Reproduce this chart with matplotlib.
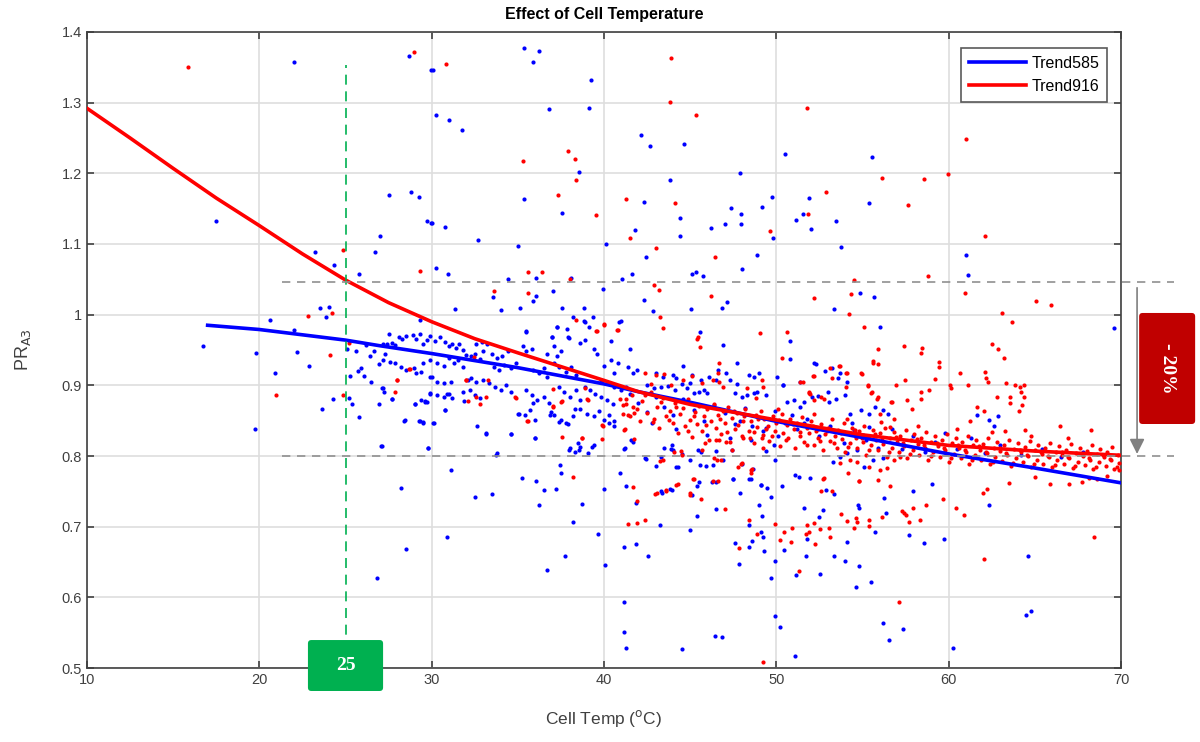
import matplotlib
matplotlib.use("Agg")
import matplotlib.pyplot as plt
from matplotlib.patches import FancyBboxPatch
from matplotlib.ticker import FuncFormatter
import numpy as np

# trend curves
trend_temp585 = [17, 20, 25, 27, 30, 35, 40, 42, 45, 50, 55, 60, 65, 70]
trend585 = [0.985, 0.979, 0.964, 0.956, 0.945, 0.925, 0.902, 0.891, 0.876, 0.849, 0.826, 0.803, 0.783, 0.762]
trend_temp916 = [10, 12.5, 15, 17.5, 20, 22.5, 25, 27.5, 30, 32.5, 35, 40, 42, 45, 50, 55, 60, 65, 70]
trend916 = [1.292, 1.250, 1.207, 1.165, 1.126, 1.086, 1.049, 1.017, 0.990, 0.966, 0.946, 0.907, 0.891,
            0.873, 0.851, 0.830, 0.815, 0.807, 0.801]

# blue (585) scatter, split by region
blue_upper = [
    (22.03, 1.358), (28.68, 1.366), (29.98, 1.346), (17.49, 1.133), (27.52, 1.169), (28.82, 1.174),
    (29.25, 1.167), (29.73, 1.133), (29.96, 1.130), (26.98, 1.112), (23.25, 1.088), (26.73, 1.089),
    (24.35, 1.070), (25.76, 1.058), (23.54, 1.009), (24.02, 1.011), (23.85, 0.997), (20.60, 0.992),
    (29.34, 0.993), (16.71, 0.955), (22.03, 0.978), (30.06, 1.346), (35.38, 1.377), (36.21, 1.373),
    (35.88, 1.358), (39.23, 1.332), (30.25, 1.283), (30.99, 1.275), (31.76, 1.262), (36.79, 1.291),
    (39.13, 1.292), (38.53, 1.202), (35.36, 1.163), (37.56, 1.144), (30.04, 1.130), (30.79, 1.124),
    (32.71, 1.105), (35.01, 1.097), (30.25, 1.066), (30.93, 1.058), (34.43, 1.051), (36.07, 1.052),
    (38.07, 1.052), (33.56, 1.025), (35.90, 1.020), (36.04, 1.026), (37.02, 1.034), (31.34, 1.008),
    (34.00, 1.007), (35.15, 1.010), (37.54, 1.009), (38.86, 1.009), (38.20, 0.997), (38.82, 0.991),
    (39.34, 0.996), (37.27, 0.983), (37.85, 0.980), (35.47, 0.977), (37.00, 0.968), (37.95, 0.967),
    (42.17, 1.254), (42.69, 1.238), (44.62, 1.241), (43.83, 1.190), (47.87, 1.200), (42.30, 1.159),
    (44.39, 1.137), (49.77, 1.167), (49.17, 1.152), (47.35, 1.151), (47.93, 1.142), (47.95, 1.128),
    (47.00, 1.128), (46.19, 1.123), (49.83, 1.108), (44.39, 1.112), (41.78, 1.120), (40.12, 1.100),
    (42.44, 1.082), (48.86, 1.084), (48.03, 1.064), (41.63, 1.057), (41.05, 1.050), (45.13, 1.057),
    (45.36, 1.060), (45.76, 1.055), (39.96, 1.036), (42.30, 1.021), (42.82, 1.005), (45.05, 1.008),
    (46.85, 1.009), (47.16, 1.018), (41.01, 0.991), (40.85, 0.989), (40.39, 0.963), (45.55, 0.976),
    (46.89, 0.957), (50.48, 1.228), (55.55, 1.223), (51.92, 1.165), (55.38, 1.158), (51.55, 1.143),
    (51.16, 1.134), (53.46, 1.132), (52.01, 1.121), (53.77, 1.096), (61.01, 1.084), (61.14, 1.056),
    (54.88, 1.030), (55.65, 1.025), (53.37, 1.008), (69.61, 0.981), (50.79, 0.963), (56.04, 0.983),
]

blue_core = [
    (19.79, 0.946), (22.19, 0.947), (22.86, 0.928), (20.91, 0.917), (23.64, 0.866), (24.26, 0.880),
    (25.20, 0.882), (25.36, 0.873), (25.76, 0.855), (19.75, 0.838), (27.08, 0.814), (29.77, 0.812),
    (28.41, 0.850), (29.27, 0.849), (29.48, 0.848), (29.01, 0.873), (26.96, 0.874), (27.72, 0.881),
    (29.63, 0.878), (27.12, 0.896), (27.23, 0.891), (26.48, 0.905), (26.05, 0.913), (25.70, 0.920),
    (25.28, 0.913), (26.44, 0.941), (26.96, 0.930), (26.63, 0.948), (27.31, 0.945), (29.92, 0.888),
    (29.92, 0.912), (25.90, 0.925), (25.1, 0.952), (25.6, 0.949), (26.2, 0.957),
    (27.54, 0.973), (28.1, 0.969), (28.3, 0.966), (28.5, 0.970), (27.2, 0.958), (27.4, 0.959),
    (27.7, 0.960), (27.9, 0.957), (28.9, 0.971), (29.1, 0.966), (29.3, 0.972), (29.5, 0.959),
    (29.7, 0.964), (29.9, 0.970), (30.2, 0.963), (30.5, 0.968), (30.8, 0.962), (31.0, 0.956),
    (31.2, 0.959), (31.4, 0.953), (31.6, 0.958), (31.8, 0.950), (27.2, 0.936), (27.6, 0.933),
    (27.9, 0.931), (28.2, 0.926), (28.5, 0.921), (29.0, 0.924), (29.1, 0.917), (29.4, 0.919),
    (27.2, 0.896), (27.7, 0.881), (29.03, 0.874), (29.4, 0.879), (29.7, 0.877), (29.9, 0.889),
    (30.3, 0.887), (30.7, 0.884), (31.0, 0.888), (31.2, 0.882), (30.0, 0.912), (30.3, 0.905),
    (30.7, 0.903), (31.1, 0.905), (29.5, 0.931), (29.9, 0.936), (30.3, 0.931), (30.7, 0.927),
    (31.0, 0.938), (31.3, 0.931), (31.5, 0.936), (31.8, 0.926), (32.0, 0.943), (32.3, 0.941),
    (32.5, 0.945), (32.8, 0.937), (33.0, 0.948), (32.6, 0.959), (32.9, 0.962), (33.2, 0.958),
    (32.1, 0.908), (32.3, 0.910), (32.6, 0.905), (33.0, 0.908), (33.3, 0.903), (31.8, 0.891),
    (32.2, 0.893), (32.5, 0.887), (32.8, 0.882), (30.77, 0.865), (29.6, 0.877), (28.45, 0.851),
    (29.3, 0.849), (29.5, 0.847), (30.06, 0.846), (32.61, 0.843), (33.15, 0.831), (29.80, 0.812),
    (33.77, 0.804), (27.10, 0.814), (33.5, 0.945), (33.8, 0.938), (34.1, 0.941), (34.4, 0.948),
    (33.6, 0.926), (33.9, 0.922), (34.2, 0.929), (34.6, 0.925), (34.9, 0.931), (33.7, 0.898),
    (34.0, 0.893), (34.3, 0.900), (34.6, 0.891), (35.0, 0.859), (34.6, 0.831), (35.3, 0.955),
    (35.5, 0.948), (35.8, 0.951), (35.47, 0.976), (35.9, 0.922), (36.2, 0.917), (36.5, 0.924),
    (36.7, 0.912), (35.5, 0.893), (35.8, 0.886), (36.1, 0.879), (36.5, 0.884), (36.8, 0.875),
    (35.4, 0.858), (35.7, 0.865), (36.0, 0.851), (35.99, 0.825), (36.7, 0.945), (37.1, 0.955),
    (37.3, 0.941), (37.5, 0.948), (37.0, 0.968), (37.3, 0.983), (37.9, 0.968), (37.1, 0.931),
    (37.4, 0.926), (37.8, 0.919), (38.1, 0.926), (38.4, 0.915), (37.4, 0.898), (37.7, 0.891),
    (38.0, 0.884), (38.4, 0.893), (38.6, 0.879), (37.1, 0.858), (37.5, 0.851), (37.8, 0.847),
    (38.2, 0.856), (38.3, 0.866), (38.6, 0.866), (38.0, 0.812), (38.3, 0.806), (38.6, 0.813),
    (38.6, 0.960), (38.9, 0.964), (39.4, 0.952), (39.6, 0.945), (38.9, 0.990), (39.1, 0.983),
    (40.0, 0.927), (40.4, 0.936), (40.6, 0.917), (40.8, 0.931), (39.8, 0.907), (40.2, 0.903),
    (40.6, 0.898), (41.0, 0.893), (41.3, 0.898), (38.9, 0.898), (39.2, 0.893), (39.5, 0.888),
    (39.8, 0.884), (40.2, 0.879), (40.5, 0.874), (39.0, 0.860), (39.4, 0.856), (39.7, 0.863),
    (40.0, 0.851), (40.3, 0.858), (40.3, 0.846), (40.6, 0.842), (39.28, 0.813), (41.22, 0.811),
    (41.70, 0.820), (41.4, 0.926), (41.7, 0.917), (41.9, 0.921), (41.51, 0.951),
    (30.75, 0.865), (30.12, 0.846), (33.17, 0.832), (34.62, 0.831), (35.98, 0.825), (37.95, 0.809),
    (38.55, 0.808), (39.09, 0.804), (39.40, 0.815), (38.47, 0.819), (35.09, 0.859), (37.39, 0.848),
    (37.91, 0.845), (36.87, 0.858), (36.95, 0.862), (35.9, 0.875), (31.88, 0.878), (30.9, 0.888),
    (40.6, 0.850), (41.16, 0.810), (41.55, 0.822), (43.46, 0.811), (44.53, 0.803), (43.9, 0.810),
    (43.95, 0.816), (45.45, 0.808), (49.42, 0.807), (49.88, 0.816),
    (44.57, 0.927), (43.0, 0.917), (43.4, 0.912), (44.0, 0.914), (44.2, 0.911), (42.5, 0.900),
    (42.9, 0.896), (43.3, 0.898), (43.7, 0.899), (44.1, 0.893), (44.5, 0.902), (44.8, 0.896),
    (45.0, 0.903), (45.1, 0.915), (45.6, 0.907), (46.1, 0.912), (46.5, 0.908), (45.2, 0.889),
    (45.5, 0.891), (45.8, 0.893), (46.0, 0.889), (46.6, 0.922), (47.7, 0.931), (47.1, 0.917),
    (47.3, 0.908), (47.7, 0.902), (47.6, 0.889), (48.0, 0.884), (48.3, 0.886), (48.7, 0.889),
    (48.9, 0.891), (49.4, 0.886), (48.4, 0.914), (48.7, 0.912), (49.0, 0.917), (50.4, 0.900),
    (50.6, 0.877), (51.0, 0.879), (51.4, 0.870), (51.6, 0.877), (52.2, 0.931), (52.8, 0.920),
    (53.2, 0.924), (53.7, 0.917), (54.1, 0.905), (54.0, 0.886), (54.3, 0.860), (54.9, 0.865),
    (55.4, 0.860), (54.5, 0.837), (55.0, 0.830), (55.4, 0.841), (55.7, 0.870), (56.2, 0.865),
    (56.5, 0.860), (53.56, 0.910), (52.3, 0.930), (51.39, 0.905), (50.39, 0.900), (50.81, 0.937),
    (50.04, 0.912), (52.07, 0.883), (52.44, 0.885), (52.98, 0.890), (53.08, 0.877), (53.46, 0.880),
    (61.66, 0.858), (62.35, 0.851), (62.63, 0.842), (62.84, 0.857),
    (42.0, 0.875), (42.5, 0.862), (43.0, 0.884), (43.5, 0.870), (44.0, 0.858), (44.6, 0.880),
    (45.2, 0.865), (45.8, 0.850), (46.4, 0.872), (47.0, 0.861), (47.6, 0.845), (48.2, 0.868),
    (48.8, 0.856), (49.4, 0.840), (49.9, 0.864), (41.5, 0.888), (42.8, 0.846), (44.2, 0.838),
    (46.0, 0.830), (47.3, 0.826), (48.5, 0.822), (47.9, 0.850), (48.6, 0.842), (49.2, 0.835),
    (50.1, 0.828), (50.9, 0.858), (51.6, 0.846), (52.4, 0.838), (50.5, 0.846), (51.2, 0.838),
    (51.8, 0.852), (52.5, 0.829), (53.1, 0.842), (53.9, 0.818), (54.4, 0.846), (55.2, 0.822),
    (55.9, 0.812), (56.7, 0.838), (57.3, 0.810), (57.9, 0.828), (58.6, 0.806), (59.2, 0.820),
    (59.8, 0.832), (60.5, 0.810), (61.3, 0.826), (62.1, 0.804), (63.0, 0.815), (64.2, 0.802),
    (65.4, 0.810), (66.5, 0.799), (67.8, 0.806),
]

blue_lower = [
    (28.22, 0.755), (28.53, 0.668), (26.83, 0.627), (31.12, 0.780), (32.50, 0.742), (33.50, 0.746),
    (30.87, 0.685), (33.75, 0.802), (35.22, 0.769), (36.04, 0.764), (36.21, 0.730), (36.54, 0.752),
    (37.23, 0.754), (37.45, 0.787), (37.50, 0.776), (38.70, 0.732), (38.22, 0.706), (37.76, 0.659),
    (36.69, 0.639), (39.65, 0.689), (40.06, 0.646), (40.00, 0.754), (40.93, 0.776), (41.28, 0.758),
    (41.88, 0.733), (41.18, 0.671), (41.88, 0.675), (42.53, 0.658), (43.25, 0.702), (41.14, 0.593),
    (41.16, 0.551), (41.30, 0.529), (44.51, 0.527), (46.42, 0.546), (46.83, 0.544), (43.37, 0.748),
    (43.93, 0.752), (45.49, 0.763), (45.13, 0.745), (46.27, 0.763), (46.52, 0.763), (46.52, 0.725),
    (45.38, 0.715), (45.01, 0.695), (47.51, 0.767), (47.91, 0.748), (48.43, 0.767), (48.63, 0.781),
    (48.98, 0.731), (49.13, 0.759), (49.44, 0.755), (49.67, 0.742), (48.41, 0.702), (49.17, 0.715),
    (49.10, 0.692), (49.23, 0.685), (48.59, 0.680), (47.58, 0.677), (48.41, 0.671), (49.26, 0.665),
    (47.83, 0.647), (49.92, 0.652), (49.67, 0.627), (49.94, 0.573), (48.00, 0.789), (46.90, 0.794),
    (44.27, 0.784), (43.04, 0.786), (42.42, 0.796), (45.55, 0.787), (45.90, 0.786),
    (42.4, 0.797), (43.3, 0.799), (44.2, 0.785), (45.0, 0.794), (46.3, 0.787), (44.0, 0.808),
    (45.6, 0.806), (46.5, 0.807), (47.4, 0.808), (48.5, 0.768), (49.1, 0.759), (45.4, 0.757),
    (47.5, 0.768), (43.3, 0.750), (43.8, 0.753), (49.9, 0.794), (53.3, 0.792), (53.7, 0.799),
    (54.1, 0.804), (54.7, 0.808), (55.1, 0.785), (55.6, 0.794), (56.2, 0.797), (52.9, 0.752),
    (50.33, 0.758), (51.06, 0.773), (51.3, 0.771), (51.94, 0.769), (53.37, 0.746), (51.63, 0.726),
    (52.73, 0.724), (52.46, 0.713), (54.74, 0.730), (54.82, 0.727), (56.35, 0.719), (56.23, 0.740),
    (57.93, 0.750), (59.05, 0.760), (55.75, 0.693), (51.78, 0.683), (54.12, 0.678), (50.43, 0.667),
    (51.72, 0.659), (53.33, 0.659), (54.0, 0.652), (54.82, 0.644), (52.55, 0.633), (51.16, 0.631),
    (54.62, 0.614), (55.51, 0.622), (57.68, 0.688), (58.55, 0.677), (59.75, 0.683), (56.19, 0.563),
    (57.35, 0.555), (56.56, 0.540), (51.07, 0.517), (60.23, 0.529), (50.2, 0.558), (64.5, 0.575),
    (64.78, 0.580), (64.59, 0.658), (62.32, 0.730),
]

# red (916) scatter, split by region
red_upper = [
    (15.86, 1.350), (28.99, 1.372), (24.86, 1.091), (29.30, 1.062), (24.22, 1.002), (22.80, 0.998),
    (30.85, 1.355), (35.30, 1.218), (37.91, 1.232), (38.30, 1.220), (38.36, 1.191), (37.33, 1.170),
    (39.54, 1.141), (35.61, 1.061), (36.42, 1.061), (38.01, 1.051), (33.62, 1.033), (35.59, 1.031),
    (38.38, 0.993), (39.52, 0.977), (40.00, 0.986), (43.87, 1.363), (43.85, 1.301), (45.34, 1.283),
    (41.30, 1.164), (44.10, 1.158), (49.61, 1.119), (41.51, 1.109), (43.00, 1.095), (46.44, 1.082),
    (42.92, 1.042), (43.21, 1.035), (46.23, 1.027), (43.27, 0.996), (43.40, 0.981), (40.79, 0.979),
    (45.44, 0.969), (45.42, 0.966), (49.05, 0.974), (45.55, 0.954), (51.78, 1.293), (61.03, 1.248),
    (56.13, 1.193), (58.55, 1.192), (59.94, 1.199), (52.88, 1.174), (57.66, 1.155), (51.82, 1.142),
    (62.11, 1.112), (58.82, 1.055), (54.53, 1.049), (52.19, 1.023), (54.33, 1.029), (60.93, 1.030),
    (65.07, 1.020), (65.92, 1.013), (54.22, 1.001), (63.08, 1.002), (63.68, 0.989), (50.60, 0.975),
    (55.11, 0.982), (62.54, 0.959), (55.90, 0.952), (57.40, 0.955), (58.45, 0.953), (62.85, 0.951),
]

red_core = [
    (24.12, 0.943), (20.95, 0.887), (24.86, 0.886), (27.85, 0.891), (28.70, 0.923), (28.01, 0.908),
    (25.20, 0.960), (28.74, 0.923), (27.97, 0.908), (31.99, 0.908), (33.29, 0.908), (32.1, 0.878),
    (32.6, 0.884), (32.8, 0.874), (33.15, 0.883), (34.89, 0.882), (35.51, 0.849), (37.04, 0.895),
    (37.06, 0.871), (37.54, 0.878), (37.54, 0.827), (38.70, 0.826), (39.57, 0.977), (40.02, 0.987),
    (40.77, 0.979), (38.9, 0.896), (39.09, 0.879), (39.86, 0.844), (40.9, 0.880), (41.3, 0.874),
    (41.7, 0.869), (41.1, 0.860), (41.5, 0.856), (41.2, 0.838), (32.0, 0.908), (32.44, 0.940),
    (34.86, 0.883), (37.02, 0.870), (37.52, 0.877), (35.59, 0.849), (38.74, 0.826), (39.87, 0.824),
    (39.01, 0.880), (39.94, 0.843), (41.18, 0.837), (41.72, 0.824),
    (42.4, 0.917), (43.0, 0.915), (43.5, 0.916), (42.7, 0.902), (43.9, 0.900), (44.6, 0.907),
    (45.1, 0.913), (45.7, 0.903), (46.3, 0.908), (46.7, 0.905), (46.9, 0.898), (46.7, 0.931),
    (46.6, 0.917), (48.3, 0.896), (48.8, 0.882), (49.2, 0.898), (49.15, 0.908), (51.4, 0.905),
    (52.1, 0.913), (51.9, 0.889), (52.2, 0.879), (52.6, 0.884), (53.1, 0.925), (53.7, 0.927),
    (54.1, 0.918), (54.9, 0.917), (55.6, 0.932), (55.9, 0.930), (55.3, 0.899), (55.5, 0.889),
    (55.9, 0.883), (56.7, 0.876), (56.0, 0.860), (56.8, 0.853), (56.6, 0.841),
    (68.26, 0.837), (66.44, 0.842), (64.45, 0.837), (63.27, 0.836), (61.26, 0.849), (62.03, 0.864),
    (61.66, 0.870), (64.06, 0.863), (64.26, 0.872), (63.54, 0.884), (63.54, 0.875), (62.81, 0.884),
    (64.35, 0.884), (64.2, 0.891), (63.85, 0.901), (64.12, 0.897), (64.39, 0.900), (63.31, 0.904),
    (62.11, 0.919), (62.19, 0.911), (62.28, 0.905), (63.23, 0.939), (61.12, 0.901), (60.64, 0.918),
    (60.1, 0.901), (60.14, 0.896), (59.44, 0.933), (59.46, 0.926), (59.23, 0.909), (58.4, 0.946),
    (58.84, 0.893), (58.4, 0.881), (58.4, 0.890), (57.87, 0.867), (57.45, 0.907), (56.95, 0.900),
    (56.65, 0.876), (57.58, 0.879), (55.84, 0.881), (55.55, 0.890), (55.30, 0.900), (55.63, 0.934),
    (54.95, 0.916), (54.06, 0.918), (54.02, 0.897), (53.66, 0.928), (53.25, 0.911), (52.17, 0.913),
    (51.53, 0.905), (50.33, 0.938), (51.88, 0.890), (51.94, 0.888), (52.75, 0.881),
    (44.06, 0.806), (44.47, 0.807), (45.70, 0.809), (45.88, 0.819), (46.50, 0.823), (46.70, 0.823),
    (47.43, 0.808), (47.10, 0.820), (48.09, 0.826), (49.17, 0.825), (49.23, 0.812), (48.70, 0.834),
]

# dense cloud along the red trend (x 41..70)
red_band = [
    (41.1, 0.872), (41.4, 0.858), (41.6, 0.887), (41.9, 0.866), (42.1, 0.849), (42.2, 0.878),
    (42.5, 0.861), (42.7, 0.891), (42.9, 0.853), (43.1, 0.870), (43.2, 0.839), (43.4, 0.882),
    (43.6, 0.857), (43.8, 0.864), (44.0, 0.846), (44.1, 0.875), (44.3, 0.832), (44.4, 0.859),
    (44.6, 0.868), (44.7, 0.842), (44.9, 0.881), (45.0, 0.851), (45.1, 0.827), (45.3, 0.862),
    (45.4, 0.845), (45.5, 0.871), (45.7, 0.836), (45.8, 0.856), (46.0, 0.866), (46.1, 0.823),
    (46.2, 0.849), (46.4, 0.874), (46.5, 0.840), (46.6, 0.858), (46.8, 0.831), (46.9, 0.863),
    (47.0, 0.847), (47.2, 0.869), (47.3, 0.820), (47.4, 0.854), (47.6, 0.838), (47.7, 0.861),
    (47.8, 0.844), (48.0, 0.828), (48.1, 0.857), (48.2, 0.867), (48.4, 0.835), (48.5, 0.849),
    (48.7, 0.818), (48.8, 0.858), (48.9, 0.841), (49.1, 0.864), (49.2, 0.830), (49.3, 0.852),
    (49.5, 0.843), (49.6, 0.821), (49.8, 0.856), (49.9, 0.836), (50.0, 0.847), (50.2, 0.814),
    (50.3, 0.860), (50.4, 0.833), (50.6, 0.844), (50.7, 0.825), (50.8, 0.852), (51.0, 0.838),
    (51.1, 0.811), (51.2, 0.846), (51.4, 0.829), (51.5, 0.855), (51.6, 0.820), (51.8, 0.840),
    (51.9, 0.833), (52.0, 0.849), (52.2, 0.815), (52.3, 0.836), (52.4, 0.826), (52.6, 0.845),
    (52.7, 0.808), (52.8, 0.831), (53.0, 0.840), (53.1, 0.821), (53.2, 0.852), (53.4, 0.829),
    (53.5, 0.812), (53.6, 0.837), (53.8, 0.824), (53.9, 0.846), (54.0, 0.805), (54.2, 0.833),
    (54.3, 0.818), (54.4, 0.840), (54.6, 0.826), (54.7, 0.811), (54.8, 0.835), (55.0, 0.820),
    (55.1, 0.843), (55.2, 0.802), (55.4, 0.829), (55.5, 0.815), (55.6, 0.837), (55.8, 0.823),
    (55.9, 0.808), (56.0, 0.832), (56.2, 0.817), (56.3, 0.840), (56.4, 0.799), (56.6, 0.826),
    (56.7, 0.812), (56.8, 0.834), (57.0, 0.820), (57.1, 0.805), (57.2, 0.829), (57.4, 0.814),
    (57.5, 0.837), (57.6, 0.797), (57.8, 0.823), (57.9, 0.809), (58.0, 0.831), (58.2, 0.817),
    (58.3, 0.802), (58.4, 0.826), (58.6, 0.812), (58.7, 0.834), (58.8, 0.794), (59.0, 0.820),
    (59.1, 0.806), (59.2, 0.828), (59.4, 0.814), (59.5, 0.799), (59.6, 0.823), (59.8, 0.809),
    (59.9, 0.831), (60.0, 0.791), (60.2, 0.818), (60.3, 0.803), (60.4, 0.825), (60.6, 0.811),
    (60.7, 0.797), (60.8, 0.820), (61.0, 0.806), (61.1, 0.829), (61.2, 0.789), (61.4, 0.815),
    (61.5, 0.801), (61.6, 0.822), (61.8, 0.809), (61.9, 0.795), (62.0, 0.817), (62.2, 0.804),
    (62.3, 0.826), (62.4, 0.788), (62.6, 0.812), (62.7, 0.799), (62.8, 0.820), (63.0, 0.807),
    (63.1, 0.793), (63.2, 0.815), (63.4, 0.802), (63.5, 0.823), (63.6, 0.786), (63.8, 0.810),
    (63.9, 0.797), (64.0, 0.818), (64.2, 0.805), (64.3, 0.791), (64.4, 0.813), (64.6, 0.800),
    (64.7, 0.821), (64.8, 0.785), (65.0, 0.808), (65.1, 0.795), (65.2, 0.816), (65.4, 0.803),
    (65.5, 0.789), (65.6, 0.811), (65.8, 0.798), (65.9, 0.819), (66.0, 0.784), (66.2, 0.806),
    (66.3, 0.794), (66.4, 0.814), (66.6, 0.801), (66.7, 0.788), (66.8, 0.809), (67.0, 0.797),
    (67.1, 0.817), (67.2, 0.783), (67.4, 0.804), (67.5, 0.792), (67.6, 0.812), (67.8, 0.800),
    (67.9, 0.787), (68.0, 0.807), (68.2, 0.795), (68.3, 0.815), (68.4, 0.782), (68.6, 0.803),
    (68.7, 0.791), (68.8, 0.810), (69.0, 0.798), (69.1, 0.786), (69.2, 0.806), (69.4, 0.794),
    (69.5, 0.813), (69.6, 0.781), (69.8, 0.801), (69.9, 0.790),
    (41.25, 0.880), (41.75, 0.861), (42.35, 0.886), (42.85, 0.848), (43.3, 0.876), (43.75, 0.851),
    (44.2, 0.870), (44.85, 0.835), (45.25, 0.857), (45.9, 0.844), (46.3, 0.869), (46.75, 0.852),
    (47.15, 0.834), (47.55, 0.864), (48.05, 0.849), (48.45, 0.826), (48.95, 0.853), (49.4, 0.838),
    (49.75, 0.829), (50.15, 0.851), (50.55, 0.822), (50.95, 0.845), (51.35, 0.834), (51.75, 0.816),
    (52.15, 0.842), (52.55, 0.821), (52.95, 0.836), (53.35, 0.818), (53.75, 0.832), (54.15, 0.813),
    (54.55, 0.837), (54.95, 0.826), (55.35, 0.809), (55.75, 0.831), (56.15, 0.822), (56.55, 0.806),
    (56.95, 0.827), (57.35, 0.818), (57.75, 0.803), (58.15, 0.824), (58.55, 0.816), (58.95, 0.800),
    (59.35, 0.819), (59.75, 0.812), (60.15, 0.797), (60.55, 0.816), (60.95, 0.809), (61.35, 0.795),
    (61.75, 0.814), (62.15, 0.806), (62.55, 0.792), (62.95, 0.811), (63.35, 0.804), (63.75, 0.790),
    (64.15, 0.809), (64.55, 0.802), (64.95, 0.788), (65.35, 0.806), (65.75, 0.800), (66.15, 0.787),
    (66.55, 0.805), (66.95, 0.799), (67.35, 0.786), (67.75, 0.803), (68.15, 0.797), (68.55, 0.785),
    (68.95, 0.802), (69.35, 0.796), (69.75, 0.784), (60.5, 0.838), (62.5, 0.834), (64.8, 0.829),
    (66.9, 0.826), (58.2, 0.842), (56.1, 0.848), (54.1, 0.853), (52.2, 0.860), (50.1, 0.867),
]

red_lower = [
    (38.20, 0.771), (41.68, 0.756), (41.90, 0.736), (41.40, 0.704), (41.90, 0.705), (42.40, 0.709),
    (42.96, 0.746), (43.60, 0.751), (44.30, 0.760), (45.16, 0.767), (45.00, 0.745), (45.61, 0.739),
    (47.04, 0.725), (48.53, 0.776), (48.40, 0.710), (49.90, 0.704), (48.88, 0.689), (47.82, 0.670),
    (49.23, 0.509), (47.95, 0.788), (46.53, 0.794), (43.27, 0.793),
    (43.4, 0.794), (44.5, 0.801), (46.4, 0.797), (46.8, 0.794), (47.8, 0.785), (48.6, 0.781),
    (48.0, 0.790), (48.5, 0.780), (45.2, 0.768), (46.3, 0.764), (46.6, 0.764), (44.2, 0.759),
    (43.6, 0.752), (43.1, 0.747), (45.0, 0.747), (52.7, 0.768), (53.7, 0.790), (54.3, 0.794),
    (54.7, 0.792), (55.4, 0.785), (56.0, 0.780), (56.4, 0.783), (56.8, 0.794), (57.2, 0.799),
    (55.9, 0.766), (56.6, 0.757), (52.6, 0.750), (54.8, 0.764),
    (52.75, 0.769), (54.16, 0.776), (54.78, 0.765), (53.21, 0.751), (53.75, 0.718), (54.12, 0.708),
    (54.60, 0.712), (54.70, 0.707), (55.36, 0.710), (55.36, 0.701), (56.12, 0.714), (57.95, 0.727),
    (57.27, 0.722), (57.39, 0.719), (57.53, 0.717), (57.72, 0.706), (58.32, 0.710), (58.69, 0.731),
    (59.69, 0.739), (52.55, 0.697), (53.04, 0.698), (52.17, 0.705), (51.78, 0.702), (51.88, 0.693),
    (51.74, 0.689), (50.91, 0.698), (50.43, 0.693), (52.26, 0.676), (53.13, 0.685), (54.49, 0.698),
    (50.87, 0.679), (50.23, 0.681), (51.32, 0.637), (57.10, 0.594), (62.07, 0.654), (68.42, 0.685),
    (60.43, 0.726), (60.87, 0.717), (62.00, 0.747), (62.20, 0.753), (63.50, 0.762), (65.03, 0.771),
    (65.90, 0.760), (66.98, 0.760), (67.72, 0.763), (68.15, 0.769), (68.63, 0.768), (69.20, 0.772),
    (69.90, 0.780),
]

x_ticks = [10, 20, 30, 40, 50, 60, 70]
y_ticks = [0.5, 0.6, 0.7, 0.8, 0.9, 1.0, 1.1, 1.2, 1.3, 1.4]

BLUE = '#0000ff'
RED = '#ff0000'
GREEN = '#00b050'
DARK_RED = '#c00000'

plt.rcParams['font.family'] = ['Liberation Sans', 'DejaVu Sans']

fig = plt.figure(figsize=(12, 7.42), dpi=100)
ax = fig.add_axes([0.0725, 0.0997, 0.8617, 0.8572])

for pts, col in [(blue_upper, BLUE), (blue_core, BLUE), (blue_lower, BLUE),
                 (red_upper, RED), (red_core, RED), (red_band, RED), (red_lower, RED)]:
    arr = np.array(pts)
    ax.scatter(arr[:, 0], arr[:, 1], s=9, color=col, linewidths=0, zorder=3)

ax.plot(trend_temp585, trend585, color=BLUE, lw=2.6, label='Trend585', zorder=4)
ax.plot(trend_temp916, trend916, color=RED, lw=2.6, label='Trend916', zorder=4)

ax.set_xlim(10, 70)
ax.set_ylim(0.5, 1.4)
ax.set_xticks(x_ticks)
ax.set_yticks(y_ticks)
ax.yaxis.set_major_formatter(FuncFormatter(lambda v, p: '%g' % v))
ax.grid(True, color='#dedede', lw=1.2, zorder=0)
ax.set_axisbelow(True)
ax.tick_params(direction='in', top=True, right=True, length=5, width=1.2,
               labelsize=10.5, colors='#404040')
for sp in ax.spines.values():
    sp.set_color('#404040')
    sp.set_linewidth(1.2)

ax.set_title('Effect of Cell Temperature', fontsize=11.5, fontweight='bold', pad=9)
ax.set_xlabel('Cell Temp ($^{\\mathrm{o}}$C)', fontsize=12.5, color='#404040', labelpad=15)
ax.set_ylabel('PR$_{\\mathrm{A3}}$', fontsize=13, color='#404040', labelpad=21)

leg = ax.legend(loc='upper right', bbox_to_anchor=(0.9865, 0.975), fontsize=11.5,
                fancybox=False, edgecolor='#303030', handlelength=3.6,
                borderpad=0.5, labelspacing=0.5, handletextpad=0.3, borderaxespad=0)
leg.get_frame().set_linewidth(1.2)

# reference lines: 25 degC and the two PR levels
ax.plot([25, 25], [0.5, 1.353], color=GREEN, lw=1.2, ls=(0, (6, 4)), zorder=5)
ax.plot([21.3, 73.1], [1.046, 1.046], color='#909090', lw=1.2, ls=(0, (5, 4)),
        clip_on=False, zorder=5)
ax.plot([21.3, 73.1], [0.800, 0.800], color='#909090', lw=1.2, ls=(0, (5, 4)),
        clip_on=False, zorder=5)
ax.annotate('', xy=(70.93, 0.799), xytext=(70.93, 1.042),
            arrowprops=dict(arrowstyle='-|>,head_length=0.9,head_width=0.45',
                            color='#808080', lw=1.2),
            annotation_clip=False)

asp = (1 / 706.7) / (1 / 17.233)
box25 = FancyBboxPatch((22.82, 0.4675), 4.36, 0.0721,
                       boxstyle='round,pad=0,rounding_size=0.2',
                       mutation_aspect=asp, fc=GREEN, ec='none',
                       clip_on=False, zorder=6)
ax.add_patch(box25)
ax.text(25, 0.503, '25', ha='center', va='center', color='white', fontsize=14,
        fontweight='bold', family='Liberation Serif', zorder=7, clip_on=False)

box20 = FancyBboxPatch((71.05, 0.8453), 3.25, 0.1571,
                       boxstyle='round,pad=0,rounding_size=0.2',
                       mutation_aspect=asp, fc=DARK_RED, ec='none',
                       clip_on=False, zorder=6)
ax.add_patch(box20)
ax.text(72.67, 0.9245, '- 20%', ha='center', va='center', color='white', fontsize=14,
        fontweight='bold', family='Liberation Serif', rotation=-90, zorder=7, clip_on=False)

fig.savefig('out.png', dpi=100)
